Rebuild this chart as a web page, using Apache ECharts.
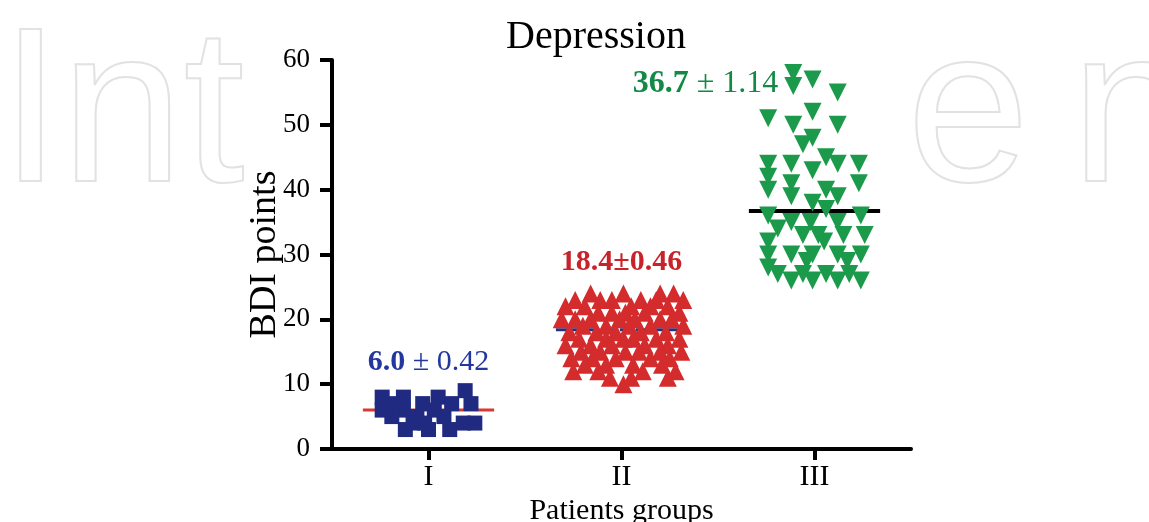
<!DOCTYPE html>
<html><head><meta charset="utf-8">
<script src="https://cdn.jsdelivr.net/npm/echarts@6/dist/echarts.min.js"></script>
<style>html,body{margin:0;padding:0;background:#fff}#c{width:1149px;height:522px}</style>
</head><body><div id="c"></div>
<script>
// ---- data ----
const groupLabels = ['I', 'II', 'III'];
const groupCenters = [1, 2, 3];
const yTicks = [0, 10, 20, 30, 40, 50, 60];
const means = [6.0, 18.4, 36.7];
const sems = [0.42, 0.46, 1.14];
const meanSeparators = [' ± ', '±', ' ± '];
const meanBold = [false, true, false];
// label anchors (data coords)
const labelX = [1.0, 2.0, 2.435];
const labelY = [13.4, 28.8, 56.3];

// Group I: horizontal jitter (category units) and BDI values
const g1Offsets = [-0.24, -0.24, -0.13, -0.13, -0.19, -0.12, -0.06, -0.03, 0.00, 0.05, 0.03, 0.08, 0.11, 0.12, 0.19, 0.18, 0.22, 0.24, -0.08, -0.02, -0.19];
const g1Values  = [8, 6, 8, 6, 7, 3, 5, 7, 3, 8, 6, 5, 3, 7, 9, 4, 7, 4, 4, 4, 5];

// Group II
const g2Offsets = [
  -0.16, 0.01, 0.20, 0.27,
  -0.24, -0.11, -0.05, 0.10, 0.18, 0.32,
  -0.29, -0.19, 0.05, 0.15, 0.24,
  -0.12, -0.05, 0.02, 0.12, 0.30,
  -0.31, -0.24, -0.16, -0.01, 0.07, 0.20, 0.26,
  -0.20, -0.08, 0.04, 0.15, 0.32,
  -0.27, -0.13, -0.03, 0.10, 0.23,
  -0.22, -0.08, 0.01, 0.06, 0.18, 0.30,
  -0.29, -0.16, -0.05, 0.12, 0.24,
  -0.21, -0.11, 0.02, 0.09, 0.20, 0.31,
  -0.26, -0.15, -0.03, 0.15, 0.25,
  -0.19, -0.08, 0.06, 0.21,
  -0.25, -0.12, 0.11, 0.28,
  -0.06, 0.05, 0.24,
  0.01
];
const g2Values = [
  24, 24, 24, 24,
  23, 23, 23, 23, 23, 23,
  22, 22, 22, 22, 22,
  21, 21, 21, 21, 21,
  20, 20, 20, 20, 20, 20, 20,
  19, 19, 19, 19, 19,
  18, 18, 18, 18, 18,
  17, 17, 17, 17, 17, 17,
  16, 16, 16, 16, 16,
  15, 15, 15, 15, 15, 15,
  14, 14, 14, 14, 14,
  13, 13, 13, 13,
  12, 12, 12, 12,
  11, 11, 11,
  10
];

// Group III
const g3Offsets = [-0.11, -0.11, -0.01, 0.12, -0.24, -0.01, -0.11, 0.12, -0.01, -0.06, 0.06, -0.24, -0.12, -0.01, 0.12, 0.23, -0.24, -0.24, -0.12, -0.12, 0.06, 0.12, 0.23, -0.01, 0.06, -0.24, 0.24, -0.12, -0.19, -0.02, 0.12, 0.15, 0.26, -0.06, 0.02, 0.05, -0.24, -0.24, -0.12, -0.01, 0.12, 0.17, 0.24, -0.04, -0.24, -0.19, -0.12, -0.06, -0.01, 0.06, 0.12, 0.18, 0.24];
const g3Values  = [58, 56, 57, 55, 51, 52, 50, 50, 48, 47, 45, 44, 44, 43, 44, 44, 42, 40, 41, 39, 40, 39, 41, 38, 37, 36, 36, 35, 34, 35, 35, 33, 33, 33, 33, 32, 32, 30, 30, 30, 30, 29, 30, 29, 28, 27, 26, 27, 26, 27, 26, 27, 26];

const meanHalfWidth = 0.34;

// ---- build ----
const SERIF = '"Liberation Serif", "Times New Roman", serif';
function pts(ci, offs, vals) { return vals.map((v, i) => [groupCenters[ci] + offs[i], v]); }
function meanLine(ci) { return [[groupCenters[ci] - meanHalfWidth, means[ci]], [groupCenters[ci] + meanHalfWidth, means[ci]]]; }

const labelColors = ['#24379e', '#c8232a', '#128a45'];
const labelSizes = [30, 30, 32];
const labelData = groupCenters.map((c, i) => ({
  value: [labelX[i], labelY[i]],
  label: {
    show: true, position: 'inside', opacity: 1,
    formatter: '{b|' + means[i].toFixed(1) + '}{' + (meanBold[i] ? 'b' : 'n') + '|' + meanSeparators[i] + sems[i].toFixed(2) + '}',
    rich: {
      b: { fontFamily: SERIF, fontWeight: 'bold', fontSize: labelSizes[i], color: labelColors[i] },
      n: { fontFamily: SERIF, fontWeight: 'normal', fontSize: labelSizes[i], color: labelColors[i] }
    }
  }
}));

const WM = { font: '220px "Liberation Sans"', fill: 'none', stroke: '#e2e2e2', lineWidth: 2, verticalAlign: 'middle', align: 'left' };

const chart = echarts.init(document.getElementById('c'), null, { renderer: 'canvas' });
chart.setOption({
  backgroundColor: '#ffffff',
  animation: false,
  title: {
    text: 'Depression', left: 591, top: 12, textAlign: 'center',
    textStyle: { fontFamily: SERIF, fontSize: 40, fontWeight: 'normal', color: '#000' }
  },
  graphic: [
    { type: 'text', z: -100, x: 0, y: 120, style: Object.assign({ text: 'Int' }, WM) },
    { type: 'text', z: -100, x: 907, y: 120, style: Object.assign({ text: 'e' }, WM) },
    { type: 'text', z: -100, x: 1071, y: 120, style: Object.assign({ text: 'n' }, WM) }
  ],
  grid: { left: 332, right: 238, top: 60, bottom: 73, containLabel: false, outerBoundsMode: 'none' },
  xAxis: {
    type: 'value', min: 0.5, max: 3.5,
    name: 'Patients groups', nameLocation: 'middle', nameGap: 47, nameMoveOverlap: false,
    nameTextStyle: { fontFamily: SERIF, fontSize: 30, color: '#000' },
    axisLine: { show: true, onZero: false, lineStyle: { color: '#000', width: 4 } },
    axisTick: { show: true, customValues: groupCenters, length: 11, lineStyle: { color: '#000', width: 4 } },
    axisLabel: { show: true, customValues: groupCenters, margin: 13, fontFamily: SERIF, fontSize: 30, color: '#000',
      formatter: v => groupLabels[groupCenters.indexOf(Math.round(v))] || '' },
    splitLine: { show: false }
  },
  yAxis: {
    type: 'value', min: yTicks[0], max: yTicks[yTicks.length - 1], interval: yTicks[1] - yTicks[0],
    name: 'BDI points', nameLocation: 'middle', nameGap: 48, nameRotate: 90, nameMoveOverlap: false,
    nameTextStyle: { fontFamily: SERIF, fontSize: 38, color: '#000' },
    axisLine: { show: true, lineStyle: { color: '#000', width: 4 } },
    axisTick: { show: true, length: 12, lineStyle: { color: '#000', width: 4 } },
    axisLabel: { margin: 22, fontFamily: SERIF, fontSize: 27, color: '#000' },
    splitLine: { show: false }
  },
  series: [
    { type: 'line', z: 1, data: meanLine(0), symbol: 'none', lineStyle: { color: '#d83a32', width: 3 } },
    { type: 'line', z: 1, data: meanLine(1), symbol: 'none', lineStyle: { color: '#1f3384', width: 3, type: [12, 4] } },
    { type: 'line', z: 1, data: meanLine(2), symbol: 'none', lineStyle: { color: '#000', width: 4 } },
    { type: 'scatter', z: 2, data: pts(0, g1Offsets, g1Values), symbol: 'rect', symbolSize: 15, itemStyle: { color: '#1f2a80', opacity: 1 } },
    { type: 'scatter', z: 2, data: pts(1, g2Offsets, g2Values), symbol: 'triangle', symbolSize: 18, itemStyle: { color: '#d42b2d', opacity: 1 } },
    { type: 'scatter', z: 2, data: pts(2, g3Offsets, g3Values), symbol: 'triangle', symbolRotate: 180, symbolSize: 18, itemStyle: { color: '#1c9a4b', opacity: 1 } },
    { type: 'scatter', z: 3, data: labelData, symbolSize: 0, silent: true, itemStyle: { opacity: 1 } }
  ]
});
</script>
</body></html>
